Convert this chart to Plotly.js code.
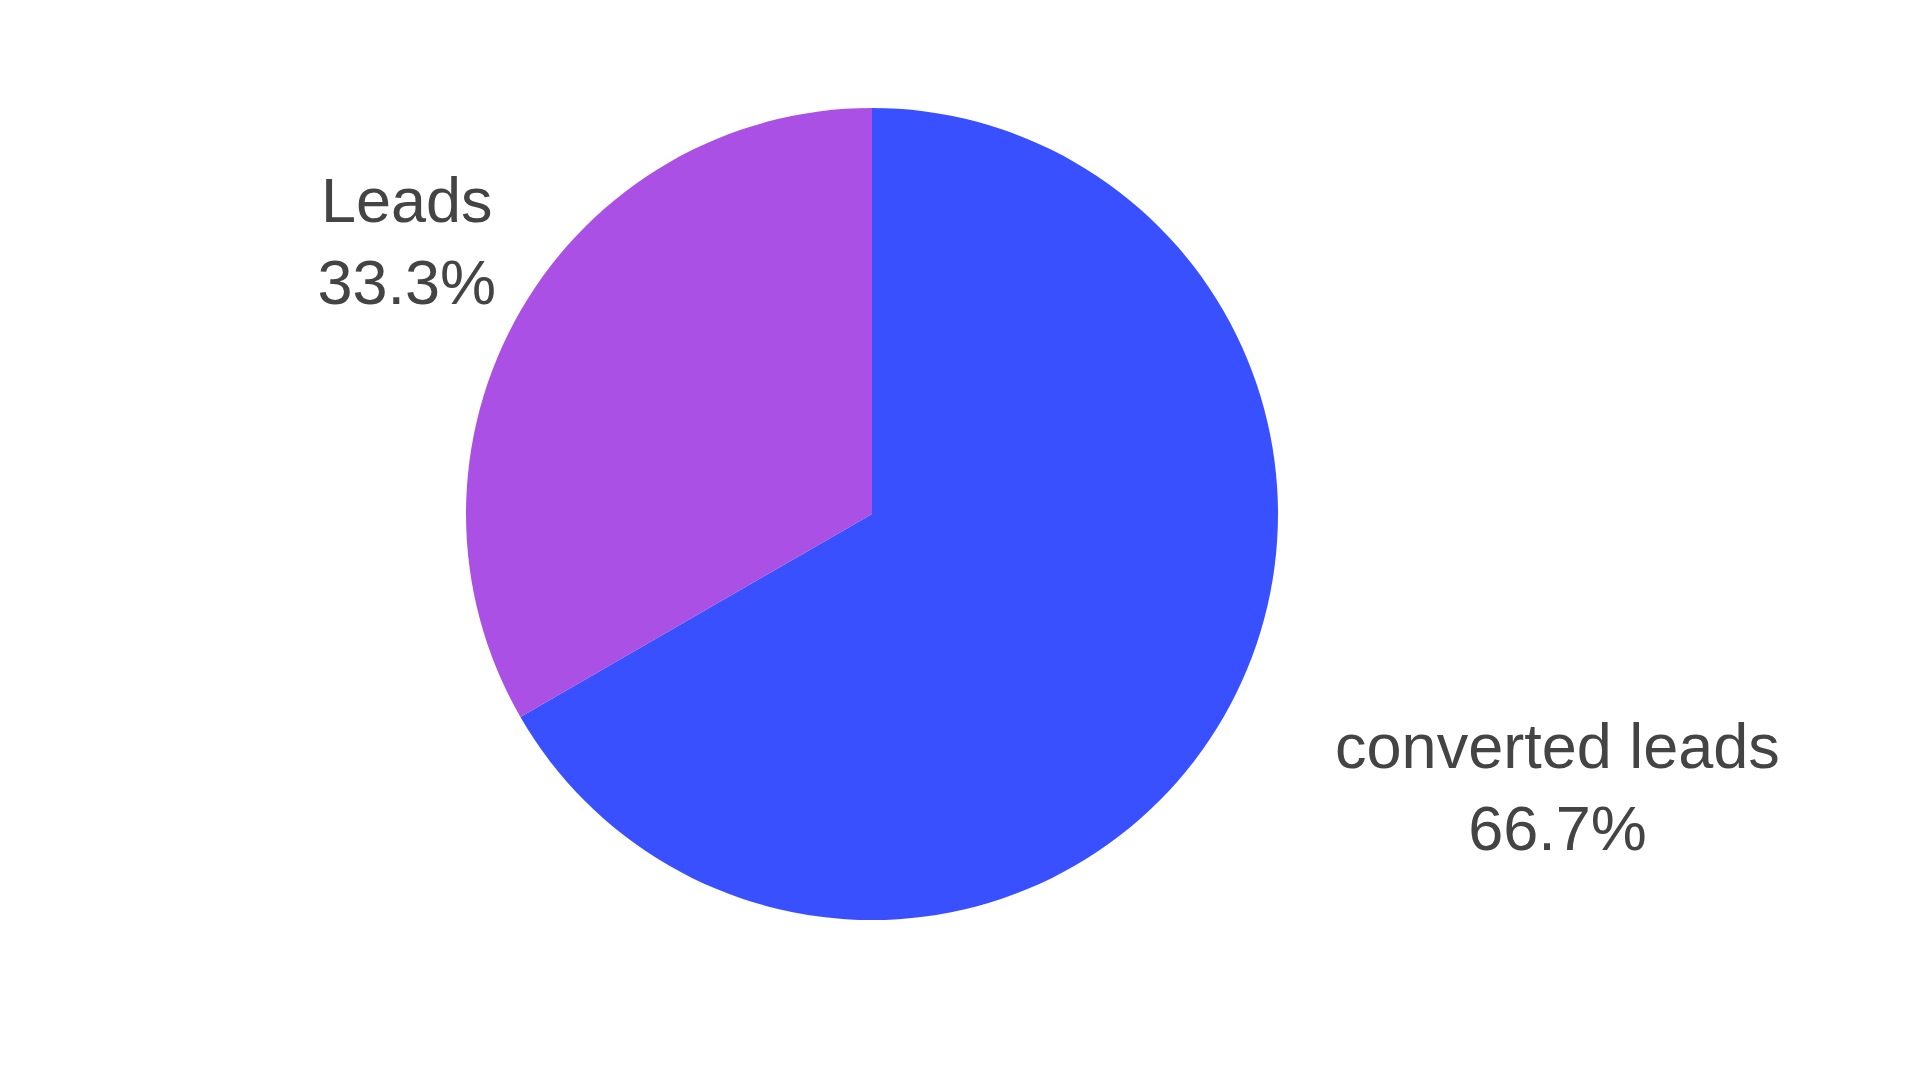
<!DOCTYPE html>
<html>
<head>
<meta charset="utf-8">
<script src="https://cdn.plot.ly/plotly-3.0.1.min.js"></script>
<style>html,body{margin:0;padding:0;background:#fff;}#chart{width:1920px;height:1080px;}</style>
</head>
<body>
<div id="chart"></div>
<script>
const labels = ['Leads', 'converted leads'];
const values = [1, 2];
const colors = ['#AB50E4', '#3850FF'];
// label text templates (invisible padding nudges each label away from the pie)
const pad = '<span style="font-size:34px">\u00A0</span>';
const labelTemplates = [
  pad + '%{label}' + pad + '<br>' + pad + '%{percent}' + pad + '<br>\u00A0',
  '\u00A0<br>' + pad + '%{label}' + pad + '<br>' + pad + '%{percent}' + pad
];

const textFont = {family: 'Liberation Sans, Arial, sans-serif', size: 63, color: '#444'};

const data = [
  {
    type: 'pie',
    labels: labels,
    values: values,
    sort: true,
    direction: 'clockwise',
    textinfo: 'none',
    marker: {colors: colors, line: {width: 0}},
    showlegend: false,
    domain: {x: [0, 1], y: [0, 1]}
  },
  {
    type: 'pie',
    labels: labels,
    values: values,
    sort: true,
    direction: 'clockwise',
    texttemplate: labelTemplates,
    textposition: 'outside',
    marker: {colors: ['rgba(0,0,0,0)', 'rgba(0,0,0,0)'], line: {width: 0}},
    textfont: textFont,
    hoverinfo: 'skip',
    showlegend: false,
    domain: {x: [0.055, 1], y: [0, 1]}
  }
];

const layout = {
  width: 1920,
  height: 1080,
  margin: {l: 80, r: 256, t: 108, b: 160},
  paper_bgcolor: '#fff',
  plot_bgcolor: '#fff',
  font: {family: 'Liberation Sans, Arial, sans-serif', color: '#444'},
  showlegend: false
};

Plotly.newPlot('chart', data, layout, {displayModeBar: false});
</script>
</body>
</html>
